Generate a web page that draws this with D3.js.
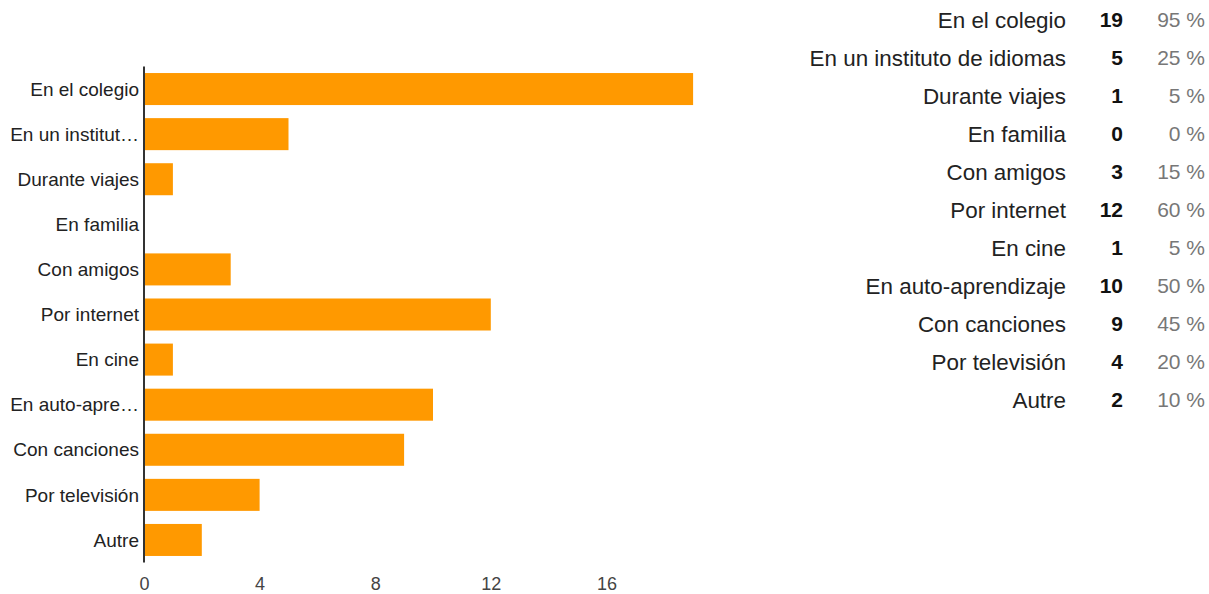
<!DOCTYPE html>
<html>
<head>
<meta charset="utf-8">
<script src="https://cdn.jsdelivr.net/npm/d3@7"></script>
<style>
  body { margin: 0; background: #fff; }
  #chart { width: 1209px; height: 594px; }
  text { font-family: "Liberation Sans", Arial, sans-serif; }
</style>
</head>
<body>
<div id="chart"></div>
<script>
// full answer labels (table) and the short ones used on the axis
const categories = ["En el colegio", "En un instituto de idiomas", "Durante viajes", "En familia",
    "Con amigos", "Por internet", "En cine", "En auto-aprendizaje", "Con canciones",
    "Por televisión", "Autre"];
const shortLabels = ["En el colegio", "En un institut…", "Durante viajes", "En familia",
    "Con amigos", "Por internet", "En cine", "En auto-apre…", "Con canciones",
    "Por televisión", "Autre"];
const counts = [19, 5, 1, 0, 3, 12, 1, 10, 9, 4, 2];
const percents = [95, 25, 5, 0, 15, 60, 5, 50, 45, 20, 10];
const tickValues = [0, 4, 8, 12, 16];

const width = document.querySelector("#chart").clientWidth;
const height = document.querySelector("#chart").clientHeight;

const svg = d3.select("#chart")
    .append("svg")
    .attr("width", width)
    .attr("height", height);

const data = categories.map((c, i) => ({ cat: c, short: shortLabels[i], count: counts[i], pct: percents[i] }));

const xScale = d3.scaleLinear()
    .domain([0, 20])
    .range([144, 722]);

const yScale = d3.scaleBand()
    .domain(categories)
    .range([66.5, 562.5])
    .paddingInner(0.29)
    .paddingOuter(0.145);

svg.selectAll("rect.bar")
    .data(data)
    .enter()
    .append("rect")
    .attr("class", "bar")
    .attr("x", xScale(0))
    .attr("y", d => yScale(d.cat))
    .attr("width", d => xScale(d.count) - xScale(0))
    .attr("height", yScale.bandwidth())
    .attr("fill", "#ff9900");

// category labels on the left
svg.append("g")
    .selectAll("text")
    .data(data)
    .enter()
    .append("text")
    .attr("x", 139)
    .attr("y", d => yScale(d.cat) + yScale.bandwidth() / 2)
    .attr("dy", "0.35em")
    .attr("text-anchor", "end")
    .attr("font-size", 19)
    .attr("fill", "#222")
    .text(d => d.short);

// x axis ticks (no lines, only labels)
const xAxis = svg.append("g")
    .attr("transform", "translate(0,571)")
    .call(d3.axisBottom(xScale).tickValues(tickValues).tickSize(0).tickPadding(6));
xAxis.select(".domain").remove();
xAxis.selectAll("text")
    .attr("font-size", 18)
    .attr("font-family", "'Liberation Sans', Arial, sans-serif")
    .attr("fill", "#444");

// vertical baseline
svg.append("line")
    .attr("x1", xScale(0)).attr("x2", xScale(0))
    .attr("y1", yScale.range()[0]).attr("y2", yScale.range()[1])
    .attr("stroke", "#333")
    .attr("stroke-width", 2);

// summary table on the right
const rowY = d3.scalePoint()
    .domain(categories)
    .range([20, 400]);

const rows = svg.append("g")
    .selectAll("g")
    .data(data)
    .enter()
    .append("g")
    .attr("transform", d => `translate(0,${rowY(d.cat)})`);

rows.append("text")
    .attr("x", 1066)
    .attr("dy", "0.35em")
    .attr("text-anchor", "end")
    .attr("font-size", 22.4)
    .attr("fill", "#222")
    .text(d => d.cat);

rows.append("text")
    .attr("x", 1123)
    .attr("dy", "0.35em")
    .attr("text-anchor", "end")
    .attr("font-size", 21)
    .attr("font-weight", "bold")
    .attr("fill", "#111")
    .text(d => d.count);

rows.append("text")
    .attr("x", 1205)
    .attr("dy", "0.35em")
    .attr("text-anchor", "end")
    .attr("font-size", 21)
    .attr("fill", "#777")
    .text(d => d.pct + " %");
</script>
</body>
</html>
